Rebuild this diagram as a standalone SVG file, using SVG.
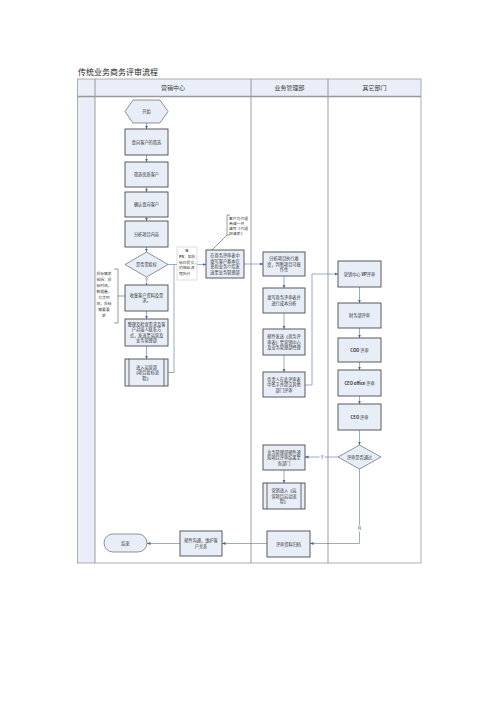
<svg xmlns="http://www.w3.org/2000/svg" width="500" height="707" viewBox="0 0 500 707">
<style>
text{font-family:"Noto Sans CJK SC","Liberation Sans",sans-serif;fill:#333;}
.t{font-size:4.2px;text-anchor:middle;}
.s{font-size:3.8px;}
.h{font-size:6px;text-anchor:middle;fill:#444;}
.box{fill:#e8eef8;stroke:#4a4a4a;stroke-width:0.9;}
.box2{fill:#e8eef8;stroke:#666;stroke-width:0.7;}
.c{fill:none;stroke:#5873a6;stroke-width:0.6;}
.ann{fill:none;stroke:#555;stroke-width:0.6;}
</style>
<defs>
<marker id="a" markerUnits="userSpaceOnUse" markerWidth="4" markerHeight="4" refX="3.5" refY="2" orient="auto">
<path d="M0,0.5 L3.5,2 L0,3.5 z" fill="#3f63a8"/>
</marker>
</defs>
<rect width="500" height="707" fill="#fff"/>
<text x="78" y="75" style="font-size:8px;fill:#222;">传统业务商务评审流程</text>
<g id="frame">
<rect x="77.5" y="79" width="343.5" height="17.5" fill="#e9eef8"/>
<rect x="77.5" y="96.5" width="17.5" height="466.5" fill="#e9eef8"/>
<rect x="77.5" y="79" width="343.5" height="484" fill="none" stroke="#9a9a9a" stroke-width="0.8"/>
<line x1="95" y1="79" x2="95" y2="563" stroke="#777" stroke-width="0.7"/>
<line x1="251" y1="79" x2="251" y2="563" stroke="#777" stroke-width="0.7"/>
<line x1="328" y1="79" x2="328" y2="563" stroke="#777" stroke-width="0.7"/>
<line x1="77.5" y1="96.5" x2="421" y2="96.5" stroke="#999" stroke-width="1.6"/>
<text class="h" x="173" y="90">营销中心</text>
<text class="h" x="289.5" y="90">业务管理部</text>
<text class="h" x="374.5" y="90">其它部门</text>
</g>
<g id="connectors">
<path class="c" d="M146.5,123 V129" marker-end="url(#a)"/>
<path class="c" d="M146.5,155 V162" marker-end="url(#a)"/>
<path class="c" d="M146.5,187 V192" marker-end="url(#a)"/>
<path class="c" d="M146.5,217 V221" marker-end="url(#a)"/>
<path class="c" d="M146.5,247 V252" marker-end="url(#a)"/>
<path class="c" d="M146.5,277 V285" marker-end="url(#a)"/>
<path class="c" d="M146.5,311 V319" marker-end="url(#a)"/>
<path class="c" d="M146.5,346 V359" marker-end="url(#a)"/>
<path class="c" d="M168,264.5 H206" marker-end="url(#a)"/>
<path class="c" d="M168,372.5 H174 V264.5"/>
<path class="c" d="M244,264 H263" marker-end="url(#a)"/>
<path class="c" d="M284,276 V288" marker-end="url(#a)"/>
<path class="c" d="M284,313 V329" marker-end="url(#a)"/>
<path class="c" d="M284,355 V372" marker-end="url(#a)"/>
<path class="c" d="M305,385 H312 V274 H338" marker-end="url(#a)"/>
<path class="c" d="M359.5,287 V303" marker-end="url(#a)"/>
<path class="c" d="M359.5,328 V338" marker-end="url(#a)"/>
<path class="c" d="M359.5,362 V370" marker-end="url(#a)"/>
<path class="c" d="M359.5,396 V404" marker-end="url(#a)"/>
<path class="c" d="M359.5,430 V445" marker-end="url(#a)"/>
<path class="c" d="M338,457 H305" marker-end="url(#a)"/>
<path class="c" d="M284,470 V483" marker-end="url(#a)"/>
<path class="c" d="M359.5,469 V543.5 H310" marker-end="url(#a)"/>
<path class="c" d="M267,543.5 H222" marker-end="url(#a)"/>
<path class="c" d="M180,543.5 H147" marker-end="url(#a)"/>
<rect x="143.5" y="278" width="6" height="5" fill="#fff"/>
<text class="t" x="146.5" y="282">Y</text>
<rect x="319.5" y="454" width="5" height="6" fill="#fff"/>
<text class="t" x="322" y="458.5">Y</text>
<rect x="357" y="525.5" width="5" height="6" fill="#fff"/>
<text class="t" x="359.5" y="530">N</text>
</g>
<g id="start">
<polygon class="box2" points="133,100 160,100 168,111.5 160,123 133,123 125,111.5"/>
<text class="t" x="146.5" y="113">开始</text>
</g>
<g id="n1"><rect class="box" x="125" y="129" width="43" height="26"/><text class="t" x="146.5" y="143.5">意向客户的筛选</text></g>
<g id="n2"><rect class="box" x="125" y="162" width="43" height="25"/><text class="t" x="146.5" y="176">筛选优质客户</text></g>
<g id="n3"><rect class="box" x="125" y="192" width="43" height="25"/><text class="t" x="146.5" y="206">确认意向客户</text></g>
<g id="n4"><rect class="box" x="125" y="221" width="43" height="26"/><text class="t" x="146.5" y="235.5">分析项目内容</text></g>
<g id="d1"><polygon class="box2" points="146.5,252 168,264.5 146.5,277 125,264.5"/><text class="t" x="146.5" y="266">是否需投标</text></g>
<g id="n5"><rect class="box" x="125" y="285" width="43" height="26"/>
<text class="t" x="146.5" y="296.75">收集客户资料及需</text><text class="t" x="146.5" y="302.25">求。</text></g>
<g id="n6"><rect class="box" x="125" y="319" width="43" height="27"/>
<text class="t" x="146.5" y="325.75">整理及检查需求及客</text><text class="t" x="146.5" y="331.25">户对接人联系方</text><text class="t" x="146.5" y="336.75">式，发送至运营及</text><text class="t" x="146.5" y="342.25">业务管理部</text></g>
<g id="n7"><rect class="box" x="125" y="359" width="43" height="27"/>
<line x1="129" y1="359" x2="129" y2="386" stroke="#4a4a4a" stroke-width="0.8"/><line x1="164" y1="359" x2="164" y2="386" stroke="#4a4a4a" stroke-width="0.8"/>
<text class="t" x="146.5" y="368.5">进入运营部</text><text class="t" x="146.5" y="374">《项目投标流</text><text class="t" x="146.5" y="379.5">程》</text></g>
<g id="ps"><rect x="177" y="247" width="20" height="33" fill="#fff" stroke="#bbb" stroke-width="0.5"/>
<text class="s" x="187" y="252" style="text-anchor:middle;font-weight:bold;">N</text>
<text class="s" x="179" y="258"><tspan font-weight="bold">PS</tspan>：如投</text><text class="s" x="179" y="263.5">标已提交，</text><text class="s" x="179" y="269">仍按此流</text><text class="s" x="179" y="274.5">程执行</text></g>
<g id="note1"><path class="ann" d="M114,269 H118 V323 H114"/><line class="ann" x1="118" y1="296" x2="125" y2="296"/>
<text class="s" x="104" y="275" style="text-anchor:middle">投标需求</text><text class="s" x="104" y="281" style="text-anchor:middle">包括：投</text><text class="s" x="104" y="287" style="text-anchor:middle">标时间，</text><text class="s" x="104" y="293" style="text-anchor:middle">数据量，</text><text class="s" x="104" y="299" style="text-anchor:middle">交货时</text><text class="s" x="104" y="305" style="text-anchor:middle">间，投标</text><text class="s" x="104" y="311" style="text-anchor:middle">需要要</text><text class="s" x="104" y="317" style="text-anchor:middle">求</text></g>
<g id="n8"><rect class="box" x="206" y="250" width="38" height="28"/>
<text class="t" x="225" y="257.25">在商务评审表中</text><text class="t" x="225" y="262.75">填写客户基本信</text><text class="t" x="225" y="268.25">息和业务介绍发</text><text class="t" x="225" y="273.75">送至业务管理部</text></g>
<g id="note2"><path class="ann" d="M230,215 H227 V235 H230"/><line class="ann" x1="227" y1="235" x2="212" y2="250"/>
<text class="s" x="229" y="219.5">客户为代理</text><text class="s" x="229" y="224.5">商请一并</text><text class="s" x="229" y="229.5">填写《代理</text><text class="s" x="229" y="234.5">申请表》</text></g>
<g id="b1"><rect class="box" x="263" y="252" width="42" height="24"/>
<text class="t" x="284" y="260">分析项目执行难</text><text class="t" x="284" y="265.5">度，判断项目可操</text><text class="t" x="284" y="271">作性</text></g>
<g id="b2"><rect class="box" x="263" y="288" width="42" height="25"/>
<text class="t" x="284" y="299.25">填写商务评审表并</text><text class="t" x="284" y="304.75">进行成本分析</text></g>
<g id="b3"><rect class="box" x="263" y="329" width="42" height="26"/>
<text class="t" x="284" y="338">邮件发送《商务评</text><text class="t" x="284" y="343.5">审表》至营销中心</text><text class="t" x="284" y="349">及业务管理部经理</text></g>
<g id="b4"><rect class="box" x="263" y="372" width="42" height="25"/>
<text class="t" x="284" y="380.5">负责人在此评审表</text><text class="t" x="284" y="386">中签字并提交其他</text><text class="t" x="284" y="391.5">部门评审</text></g>
<g id="o1"><rect class="box" x="338" y="261" width="43" height="26"/><text class="t" x="359.5" y="275.5">营销中心 <tspan font-weight="bold">VP</tspan>评审</text></g>
<g id="o2"><rect class="box" x="338" y="303" width="43" height="25"/><text class="t" x="359.5" y="317">财务部评审</text></g>
<g id="o3"><rect class="box" x="338" y="338" width="43" height="24"/><text class="t" x="359.5" y="351.5"><tspan font-weight="bold">COO</tspan> 评审</text></g>
<g id="o4"><rect class="box" x="338" y="370" width="43" height="26"/><text class="t" x="359.5" y="384.5"><tspan font-weight="bold">CEO office</tspan> 评审</text></g>
<g id="o5"><rect class="box" x="338" y="404" width="43" height="26"/><text class="t" x="359.5" y="418.5"><tspan font-weight="bold">CEO</tspan> 评审</text></g>
<g id="d2"><polygon class="box2" points="359.5,445 381,457 359.5,469 338,457"/><text class="t" x="359.5" y="458.5">评审是否通过</text></g>
<g id="b5"><rect class="box" x="263" y="445" width="42" height="25"/>
<text class="t" x="284" y="453.5">业务管理部邮件通</text><text class="t" x="284" y="459">知项目评审结果至</text><text class="t" x="284" y="464.5">各部门</text></g>
<g id="b6"><rect class="box" x="263" y="483" width="42" height="26"/>
<line x1="267" y1="483" x2="267" y2="509" stroke="#4a4a4a" stroke-width="0.8"/><line x1="301" y1="483" x2="301" y2="509" stroke="#4a4a4a" stroke-width="0.8"/>
<text class="t" x="284" y="492">营销进入《运</text><text class="t" x="284" y="497.5">营项目启动流</text><text class="t" x="284" y="503">程》</text></g>
<g id="b7"><rect class="box" x="267" y="531" width="43" height="26"/><text class="t" x="288.5" y="545.5">评审资料归档</text></g>
<g id="m1"><rect class="box" x="180" y="531" width="42" height="25"/>
<text class="t" x="201" y="542.25">邮件沟通，维护客</text><text class="t" x="201" y="547.75">户关系</text></g>
<g id="end"><rect class="box2" x="104" y="534" width="43" height="18" rx="9"/><text class="t" x="125.5" y="545">结束</text></g>
</svg>
